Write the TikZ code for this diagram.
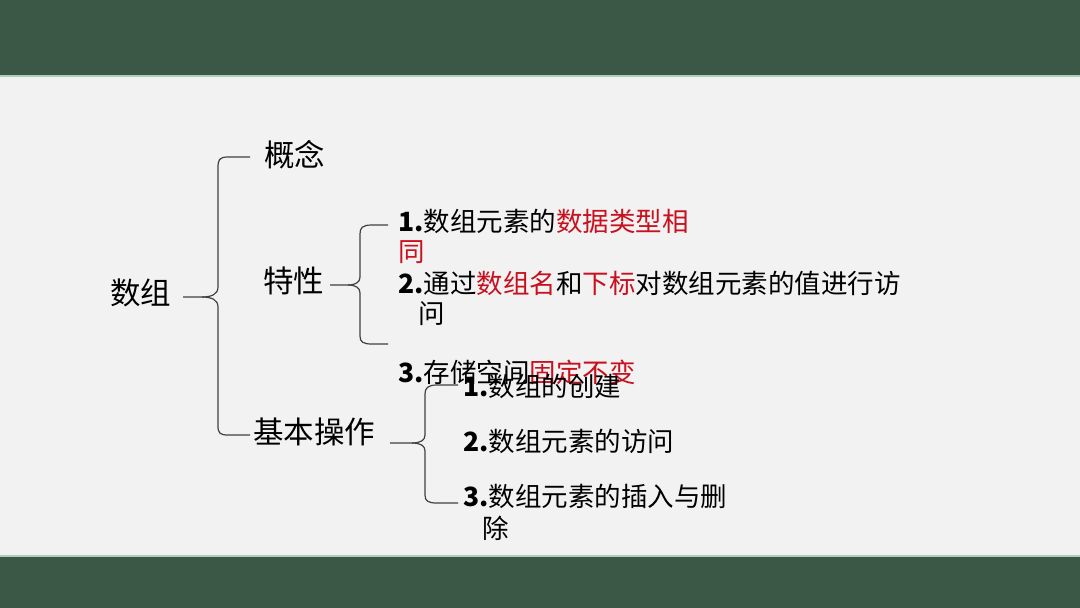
\documentclass[tikz,border=0pt]{standalone}
\usepackage{fontspec}
\newfontfamily\cjk{Noto Sans CJK SC}
\definecolor{bar}{HTML}{3A5845}
\definecolor{barline}{HTML}{A9D3B2}
\definecolor{bg}{HTML}{F2F2F2}
\definecolor{hl}{HTML}{C8101E}
\definecolor{ln}{HTML}{404040}
\tikzset{
  big/.style={anchor=west,inner sep=0pt,font=\cjk\fontsize{30.5}{34}\selectfont},
  item/.style={anchor=west,inner sep=0pt,font=\cjk\fontsize{26.5}{30}\selectfont},
  bracel/.style={draw=ln,line width=1.2pt,line join=round}
}
\newcommand{\nm}[1]{{\bfseries #1}}
\begin{document}
\begin{tikzpicture}[x=1pt,y=-1pt]
\fill[bg] (0,0) rectangle (1080,608);
\useasboundingbox (0,0) rectangle (1080,608);
\fill[bar] (0,0) rectangle (1080,75);
\fill[barline] (0,75) rectangle (1080,77);
\fill[barline] (0,555) rectangle (1080,557);
\fill[bar] (0,557) rectangle (1080,608);

% main texts
\node[big] (shuzu) at (110,293) {数组};
\node[big] (gainian) at (264,155) {概念};
\node[big] (texing) at (263,281) {特性};
\node[big] (caozuo) at (253,432) {基本操作};

% features
\node[item] (f1) at (398,221) {\nm{1.}数组元素的\textcolor{hl}{数据类型相}};
\node[item] (f1b) at (398,252) {\textcolor{hl}{同}};
\node[item] (f2) at (398,283) {\nm{2.}通过\textcolor{hl}{数组名}和\textcolor{hl}{下标}对数组元素的值进行访};
\node[item] (f2b) at (418,314) {问};
\node[item] (f3) at (398,372) {\nm{3.}存储空间\textcolor{hl}{固定不变}};

% operations
\node[item] (o1) at (463,386) {\nm{1.}数组的创建};
\node[item] (o2) at (463,441) {\nm{2.}数组元素的访问};
\node[item] (o3) at (463,496) {\nm{3.}数组元素的插入与删};
\node[item] (o3b) at (482,528) {除};

% brace 1
\coordinate (b1tip) at (183,297);
\coordinate (b1top) at (250,157);
\coordinate (b1bot) at (250,435);
\draw[bracel] (b1top) -- (228,157) .. controls (219,157) and (218,160) .. (218,168)
  -- (218,287) .. controls (218,294) and (212,297) .. (202,297) -- (b1tip);
\draw[bracel] (202,297) .. controls (212,297) and (218,300) .. (218,307)
  -- (218,426) .. controls (218,433) and (220,435) .. (228,435) -- (b1bot);

% brace 2
\coordinate (b2tip) at (330,285);
\coordinate (b2top) at (388,225);
\coordinate (b2bot) at (388,344);
\draw[bracel] (b2top) -- (372,225) .. controls (362,225) and (360,228) .. (360,234)
  -- (360,277) .. controls (360,282) and (356,285) .. (348,285) -- (b2tip);
\draw[bracel] (348,285) .. controls (356,285) and (360,288) .. (360,293)
  -- (360,336) .. controls (360,342) and (363,344) .. (372,344) -- (b2bot);

% brace 3
\coordinate (b3tip) at (390,443);
\coordinate (b3top) at (458,385);
\coordinate (b3bot) at (458,503);
\draw[bracel] (b3top) -- (437,385) .. controls (428,385) and (425,388) .. (425,394)
  -- (425,435) .. controls (425,440) and (421,443) .. (412,443) -- (b3tip);
\draw[bracel] (412,443) .. controls (421,443) and (425,446) .. (425,451)
  -- (425,495) .. controls (425,501) and (428,503) .. (437,503) -- (b3bot);
\end{tikzpicture}
\end{document}
